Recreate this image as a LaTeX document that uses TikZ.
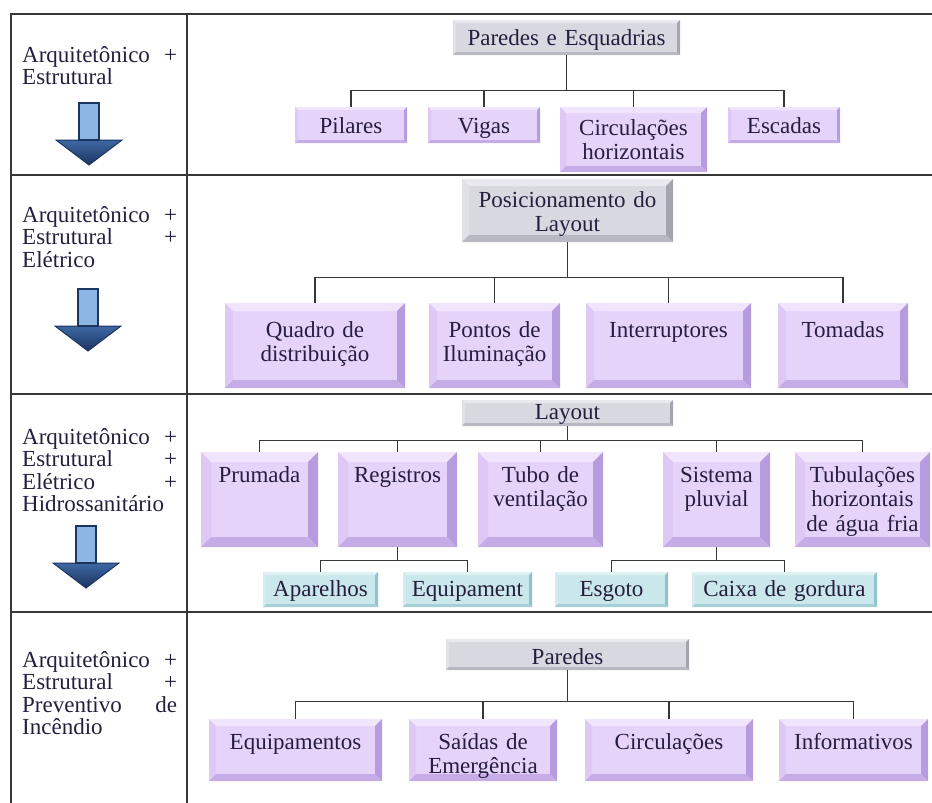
\documentclass[tikz,border=0pt]{standalone}
\usepackage{fontspec}
\setmainfont{Liberation Serif}
\definecolor{linha}{RGB}{55,55,55}
\definecolor{texto}{RGB}{38,30,62}
\definecolor{roxoF}{RGB}{230,211,250}
\definecolor{roxoT}{RGB}{241,229,253}
\definecolor{roxoE}{RGB}{222,201,246}
\definecolor{roxoD}{RGB}{182,156,222}
\definecolor{roxoB}{RGB}{197,172,230}
\definecolor{cinzaF}{RGB}{216,216,224}
\definecolor{cinzaT}{RGB}{232,232,238}
\definecolor{cinzaE}{RGB}{224,224,230}
\definecolor{cinzaD}{RGB}{165,165,176}
\definecolor{cinzaB}{RGB}{184,184,194}
\definecolor{cianoF}{RGB}{202,231,235}
\definecolor{cianoT}{RGB}{222,241,244}
\definecolor{cianoE}{RGB}{212,236,239}
\definecolor{cianoD}{RGB}{146,194,202}
\definecolor{cianoB}{RGB}{166,208,214}
\definecolor{azulA}{RGB}{28,52,96}
\definecolor{azulB}{RGB}{62,104,164}
\definecolor{azulC}{RGB}{142,182,228}
\usepackage{tikz}
\usetikzlibrary{positioning}

\begin{document}
\begin{tikzpicture}[x=1pt, y=-1pt, inner sep=0pt, text=texto,
  font=\fontsize{23pt}{24.5pt}\selectfont,
  bisel/.style 2 args={fill=#1F, path picture={
    \coordinate (nw) at (path picture bounding box.north west);
    \coordinate (ne) at (path picture bounding box.north east);
    \coordinate (se) at (path picture bounding box.south east);
    \coordinate (sw) at (path picture bounding box.south west);
    \fill[#1T] (nw) -- (ne) -- ([shift={(-#2,-#2)}]ne) -- ([shift={(#2,-#2)}]nw) -- cycle;
    \fill[#1E] (nw) -- ([shift={(#2,-#2)}]nw) -- ([shift={(#2,#2)}]sw) -- (sw) -- cycle;
    \fill[#1D] (ne) -- (se) -- ([shift={(-#2,#2)}]se) -- ([shift={(-#2,-#2)}]ne) -- cycle;
    \fill[#1B] (sw) -- (se) -- ([shift={(-#2,#2)}]se) -- ([shift={(#2,#2)}]sw) -- cycle;}},
  roxo/.style={bisel={roxo}{#1}, anchor=north, align=center},
  cinza/.style={bisel={cinza}{#1}, anchor=north, align=center},
  ciano/.style={bisel={ciano}{#1}, anchor=north, align=center},
  rotulo/.style={anchor=base west, text width=155pt, align=left, font=\fontsize{23pt}{22.5pt}\selectfont},
  grade/.style={draw=linha, line width=1.6pt},
  ligacao/.style={draw=linha, line width=1.8pt},
  ramo/.style={ligacao, to path={-| (\tikztotarget)}},
  seta/.pic={
    \shade[top color=azulB, bottom color=azulA, draw=azulA, line width=1pt] (-33,37) -- (33,37) -- (0,62) -- cycle;
    \draw[fill=azulC, draw=azulA, line width=2pt] (-10,0) rectangle (10,37);}]
  \useasboundingbox (0,0) rectangle (932,803);

  % tabela
  \draw[grade] (11,803) -- (11,14) -- (932,14);
  \draw[grade] (187,14) -- (187,803);
  \draw[grade] (11,175) -- (932,175);
  \draw[grade] (11,394) -- (932,394);
  \draw[grade] (11,612) -- (932,612);

  % coluna da esquerda
  \node[rotulo] (L1) at (22,62)  {Arquitetônico \hfill +\\ Estrutural};
  \node[rotulo] (L2) at (22,222) {Arquitetônico \hfill +\\ Estrutural \hfill +\\ Elétrico};
  \node[rotulo] (L3) at (22,444) {Arquitetônico \hfill +\\ Estrutural \hfill +\\ Elétrico \hfill +\\ Hidrossanitário};
  \node[rotulo] (L4) at (22,667) {Arquitetônico \hfill +\\ Estrutural \hfill +\\ Preventivo \hfill de\\ Incêndio};
  \pic at (89,103) {seta};
  \pic at (88,289) {seta};
  \pic at (86,526) {seta};

  % 1a linha
  \node[cinza=3pt, text width=227pt, text height=25pt, text depth=10pt] (R1) at (566.5,20) {Paredes e Esquadrias};
  \node[roxo=3pt, text width=112pt, text height=26pt, text depth=10pt]  (R1_1) at (351,107)   {Pilares};
  \node[roxo=3pt, text width=112pt, text height=26pt, text depth=10pt]  (R1_2) at (484,107)   {Vigas};
  \node[roxo=6pt, text width=147pt, text height=28pt, text depth=37pt]  (R1_3) at (633.5,107) {Circulações\\horizontais};
  \node[roxo=3pt, text width=112pt, text height=26pt, text depth=10pt]  (R1_4) at (784,107)   {Escadas};
  \coordinate[below=35pt of R1] (B1);

  % 2a linha
  \node[cinza=7pt, text width=211pt, text height=28pt, text depth=35pt] (R2) at (567.5,179) {Posicionamento do\\Layout};
  \node[roxo=8pt, text width=180pt, text height=34pt, text depth=51pt]  (R2_1) at (315,303)   {Quadro de\\distribuição};
  \node[roxo=8pt, text width=131pt, text height=34pt, text depth=51pt]  (R2_2) at (494.5,303) {Pontos de\\Iluminação};
  \node[roxo=8pt, text width=165pt, text height=34pt, text depth=51pt]  (R2_3) at (668.5,303) {Interruptores};
  \node[roxo=8pt, text width=130pt, text height=34pt, text depth=51pt]  (R2_4) at (843,303)   {Tomadas};
  \coordinate[below=35pt of R2] (B2);

  % 3a linha
  \node[cinza=3pt, text width=211pt, text height=19pt, text depth=7pt] (R3) at (567.5,400) {Layout};
  \node[roxo=10pt, text width=117pt, text height=30pt, text depth=65pt] (R3_1) at (259.5,452) {Prumada};
  \node[roxo=10pt, text width=119pt, text height=30pt, text depth=65pt] (R3_2) at (397.5,452) {Registros};
  \node[roxo=10pt, text width=125pt, text height=30pt, text depth=65pt] (R3_3) at (540.5,452) {Tubo de\\ventilação};
  \node[roxo=10pt, text width=107pt, text height=30pt, text depth=65pt] (R3_4) at (716.5,452) {Sistema\\pluvial};
  \node[roxo=10pt, text width=135pt, text height=30pt, text depth=65pt] (R3_5) at (862.5,452) {Tubulações\\horizontais\\de água fria};
  \coordinate[below=14pt of R3] (B3);
  \node[ciano=3pt, text width=115pt, text height=24pt, text depth=11pt] (R3_21) at (320.5,572) {Aparelhos};
  \node[ciano=3pt, text width=129pt, text height=24pt, text depth=11pt] (R3_22) at (467.5,572) {Equipament};
  \node[ciano=3pt, text width=113pt, text height=24pt, text depth=11pt] (R3_41) at (611.5,572) {Esgoto};
  \node[ciano=3pt, text width=185pt, text height=24pt, text depth=11pt] (R3_42) at (784.5,572) {Caixa de gordura};
  \coordinate[below=13pt of R3_2] (S2);
  \coordinate[below=13pt of R3_4] (S4);

  % 4a linha
  \node[cinza=3pt, text width=243pt, text height=25pt, text depth=6pt] (R4) at (567.5,639) {Paredes};
  \node[roxo=7pt, text width=173pt, text height=30pt, text depth=32pt] (R4_1) at (295.5,719) {Equipamentos};
  \node[roxo=7pt, text width=148pt, text height=30pt, text depth=32pt] (R4_2) at (483,719)   {Saídas de\\Emergência};
  \node[roxo=7pt, text width=168pt, text height=30pt, text depth=32pt] (R4_3) at (669,719)   {Circulações};
  \node[roxo=7pt, text width=149pt, text height=30pt, text depth=32pt] (R4_4) at (853.5,719) {Informativos};
  \coordinate[below=31pt of R4] (B4);

  \path (R1) edge [ligacao] (B1)
        (B1) edge [ramo] (R1_1.north)
        (B1) edge [ramo] (R1_2.north)
        (B1) edge [ramo] (R1_3.north)
        (B1) edge [ramo] (R1_4.north)
        (R2) edge [ligacao] (B2)
        (B2) edge [ramo] (R2_1.north)
        (B2) edge [ramo] (R2_2.north)
        (B2) edge [ramo] (R2_3.north)
        (B2) edge [ramo] (R2_4.north)
        (R3) edge [ligacao] (B3)
        (B3) edge [ramo] (R3_1.north)
        (B3) edge [ramo] (R3_2.north)
        (B3) edge [ramo] (R3_3.north)
        (B3) edge [ramo] (R3_4.north)
        (B3) edge [ramo] (R3_5.north)
        (R3_2) edge [ligacao] (S2)
        (S2) edge [ramo] (R3_21.north)
        (S2) edge [ramo] (R3_22.north)
        (R3_4) edge [ligacao] (S4)
        (S4) edge [ramo] (R3_41.north)
        (S4) edge [ramo] (R3_42.north)
        (R4) edge [ligacao] (B4)
        (B4) edge [ramo] (R4_1.north)
        (B4) edge [ramo] (R4_2.north)
        (B4) edge [ramo] (R4_3.north)
        (B4) edge [ramo] (R4_4.north)
        ;
\end{tikzpicture}
\end{document}
